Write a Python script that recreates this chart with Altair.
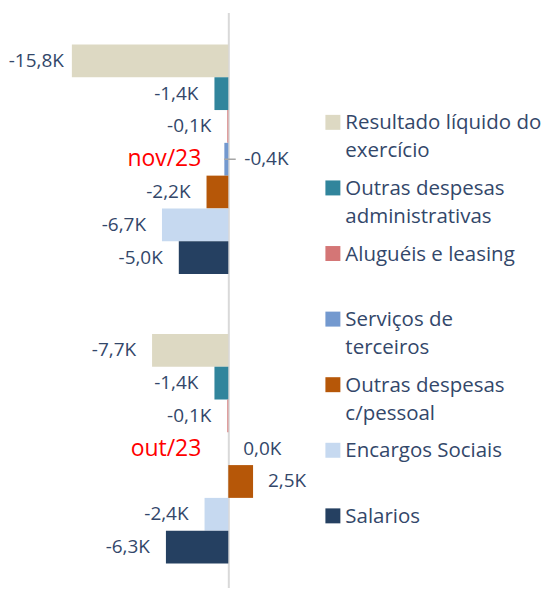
import altair as alt
import pandas as pd

months = ["nov/23", "out/23"]
series = [
    "Resultado líquido do exercício",
    "Outras despesas administrativas",
    "Aluguéis e leasing",
    "Serviços de terceiros",
    "Outras despesas c/pessoal",
    "Encargos Sociais",
    "Salarios",
]
legend_lines = [
    "Resultado líquido do\nexercício",
    "Outras despesas\nadministrativas",
    "Aluguéis e leasing",
    "Serviços de\nterceiros",
    "Outras despesas\nc/pessoal",
    "Encargos Sociais",
    "Salarios",
]
nov_values = [-15.8, -1.4, -0.1, -0.4, -2.2, -6.7, -5.0]
out_values = [-7.7, -1.4, -0.1, 0.0, 2.5, -2.4, -6.3]
colors = ["#ddd9c3", "#31859c", "#d47676", "#7399cf", "#b65708", "#c6d9f0", "#254061"]

rows = []
for m, vals in zip(months, [nov_values, out_values]):
    for s, v in zip(series, vals):
        rows.append({"month": m, "series": s, "value": v,
                     "label": f"{v:.1f}".replace(".", ",") + "K"})
df = pd.DataFrame(rows)
legend_df = pd.DataFrame({"series": series, "lines": legend_lines})

FONT = "Open Sans"
LABEL_COLOR = "#33476a"
X_MIN, X_MAX, W = -16, 9, 248
ZERO_PX = W * (0 - X_MIN) / (X_MAX - X_MIN)

y_enc = alt.Y("month:N", sort=months,
              axis=alt.Axis(labels=False, ticks=False, title=None, domain=True,
                            domainColor="#d9d9d9", domainWidth=2, offset=-ZERO_PX, grid=False),
              scale=alt.Scale(type="band", paddingInner=0.207, paddingOuter=0.0966, align=0.571))
yoff = alt.YOffset("series:N", sort=series, scale=alt.Scale(paddingInner=0, paddingOuter=0))
x_enc = alt.X("value:Q", axis=None, scale=alt.Scale(domain=[X_MIN, X_MAX], nice=False, zero=False))
color_enc = alt.Color("series:N", sort=series,
                      scale=alt.Scale(domain=series, range=colors), legend=None)

base = alt.Chart(df)
special = (alt.datum.month == "nov/23") & (alt.datum.series == "Serviços de terceiros")
middle = alt.datum.series == "Serviços de terceiros"

bars = base.mark_bar().encode(y=y_enc, yOffset=yoff, x=x_enc, color=color_enc)

txt_kw = dict(font=FONT, fontSize=19, color=LABEL_COLOR, baseline="middle")
neg_big = base.transform_filter(alt.datum.value < -10).mark_text(
    align="right", dx=-8, **txt_kw).encode(y=y_enc, yOffset=yoff, x=x_enc, text="label:N")
neg = base.transform_filter((alt.datum.value < 0) & (alt.datum.value >= -10) & ~special).mark_text(
    align="right", dx=-16, **txt_kw).encode(y=y_enc, yOffset=yoff, x=x_enc, text="label:N")
pos = base.transform_filter(alt.datum.value >= 0).mark_text(
    align="left", dx=15, **txt_kw).encode(y=y_enc, yOffset=yoff, x=x_enc, text="label:N")
spec_txt = base.transform_filter(special).mark_text(
    align="left", dx=16, **txt_kw).encode(y=y_enc, yOffset=yoff, x=alt.datum(0), text="label:N")
leader = base.transform_filter(special).mark_rule(color="#a6a6a6", strokeWidth=1.5).encode(
    y=y_enc, yOffset=yoff, x=x_enc, x2=alt.datum(0.75))

month_txt = base.transform_filter(middle).mark_text(
    align="right", dx=-27, baseline="middle", font=FONT, fontSize=23, color="#ff0000"
).encode(y=y_enc, yOffset=yoff, x=alt.datum(0), text="month:N")

main = alt.layer(bars, leader, neg_big, neg, pos, spec_txt, month_txt).properties(
    width=W, height=576)

ly = alt.Y("series:N", sort=series, axis=None,
           scale=alt.Scale(type="band", paddingInner=0, paddingOuter=0.883, align=0.665))
sq = alt.Chart(legend_df).mark_square(size=225, opacity=1).encode(
    y=ly, x=alt.value(7.5),
    color=alt.Color("series:N", sort=series, scale=alt.Scale(domain=series, range=colors), legend=None))
ltxt = alt.Chart(legend_df).mark_text(
    align="left", baseline="alphabetic", dy=7, font=FONT, fontSize=20.5, lineHeight=28,
    lineBreak="\n", color=LABEL_COLOR
).encode(y=ly, x=alt.value(20), text="lines:N")
legend_panel = alt.layer(sq, ltxt).properties(width=200, height=576)

chart = alt.hconcat(main, legend_panel, spacing=8).resolve_scale(y="independent").properties(
    padding={"left": 0, "top": 4, "right": 0, "bottom": 0}
).configure_view(stroke=None)

chart.save("out.html", embed_options={"renderer": "svg", "actions": False})
